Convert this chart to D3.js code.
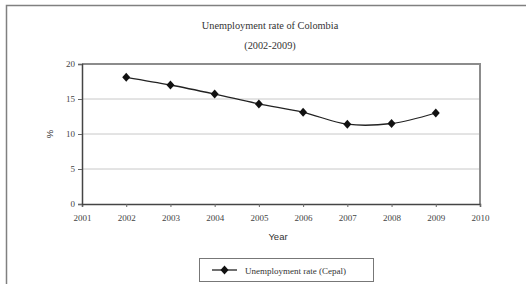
<!DOCTYPE html>
<html>
<head>
<meta charset="utf-8">
<script src="https://cdn.jsdelivr.net/npm/d3@7"></script>
<style>
  body { margin: 0; background: #fff; }
  svg { display: block; }
</style>
</head>
<body>
<svg id="chart" width="526" height="284"></svg>
<script>
const years = [2002, 2003, 2004, 2005, 2006, 2007, 2008, 2009];
const rates = [18.1, 17.0, 15.7, 14.3, 13.1, 11.4, 11.5, 13.0];
const xTicks = [2001, 2002, 2003, 2004, 2005, 2006, 2007, 2008, 2009, 2010];
const yTicks = [0, 5, 10, 15, 20];
const seriesName = 'Unemployment rate (Cepal)';

const svg = d3.select('#chart');
const serif = '"Liberation Serif", "DejaVu Serif", serif';
const sans = '"Liberation Sans", Arial, sans-serif';

// outer frame (top + left only, image is cropped)
svg.append('path')
    .attr('d', 'M6.5,284 V5.5 H526')
    .attr('fill', 'none')
    .attr('stroke', '#808080')
    .attr('stroke-width', 1.5);

const plot = { left: 82, top: 64, right: 480, bottom: 204 };

const x = d3.scaleLinear().domain([2001, 2010]).range([plot.left, plot.right]);
const y = d3.scaleLinear().domain([0, 20]).range([plot.bottom, plot.top]);

// title
svg.append('text')
    .attr('x', 270).attr('y', 29)
    .attr('text-anchor', 'middle')
    .attr('font-family', serif).attr('font-size', 10.3).attr('fill', '#333')
    .text('Unemployment rate of Colombia');
svg.append('text')
    .attr('x', 270).attr('y', 49)
    .attr('text-anchor', 'middle')
    .attr('font-family', serif).attr('font-size', 10.3).attr('fill', '#333')
    .text('(2002-2009)');

// gridlines
svg.append('g')
    .selectAll('line')
    .data(yTicks.filter(d => d > 0 && d < 20))
    .enter().append('line')
    .attr('x1', plot.left).attr('x2', plot.right)
    .attr('y1', d => y(d)).attr('y2', d => y(d))
    .attr('stroke', '#c8c8c8').attr('stroke-width', 1);

// plot border (top and right, grey)
svg.append('path')
    .attr('d', `M${plot.left},${y(20)} H${plot.right} V${plot.bottom}`)
    .attr('fill', 'none')
    .attr('stroke', '#8c8c8c')
    .attr('stroke-width', 2);

// axes
const xAxis = svg.append('g')
    .attr('transform', `translate(0,${plot.bottom})`)
    .call(d3.axisBottom(x).tickValues(xTicks).tickFormat(d3.format('d')).tickSize(3).tickPadding(8));
const yAxis = svg.append('g')
    .attr('transform', `translate(${plot.left},0)`)
    .call(d3.axisLeft(y).tickValues(yTicks).tickSize(4).tickPadding(3));

[xAxis, yAxis].forEach(g => {
    g.select('.domain').attr('stroke', '#444').attr('stroke-width', 1.5);
    g.selectAll('.tick line').attr('stroke', '#666');
    g.selectAll('.tick text')
        .attr('font-family', serif).attr('font-size', 9).attr('fill', '#444');
});

// axis titles
svg.append('text')
    .attr('x', 278).attr('y', 240)
    .attr('text-anchor', 'middle')
    .attr('font-family', sans).attr('font-size', 9.5).attr('fill', '#333')
    .text('Year');
svg.append('text')
    .attr('transform', `translate(53,${(plot.top + plot.bottom) / 2}) rotate(-90)`)
    .attr('text-anchor', 'middle')
    .attr('font-family', sans).attr('font-size', 9.5).attr('fill', '#333')
    .text('%');

// series line
const data = years.map((yr, i) => ({ year: yr, rate: rates[i] }));
const line = d3.line()
    .x(d => x(d.year))
    .y(d => y(d.rate))
    .curve(d3.curveCatmullRom.alpha(0));
svg.append('path')
    .datum(data)
    .attr('d', line)
    .attr('fill', 'none')
    .attr('stroke', '#222')
    .attr('stroke-width', 1.3);

// square-ish diamond marker like the spreadsheet one
const diamond = 'M0,-4.5 L4,0 L0,4.5 L-4,0 Z';
svg.append('g')
    .selectAll('path')
    .data(data)
    .enter().append('path')
    .attr('transform', d => `translate(${x(d.year)},${y(d.rate)})`)
    .attr('d', diamond)
    .attr('fill', '#111');

// legend
const legend = svg.append('g').attr('transform', 'translate(199,258)');
legend.append('rect')
    .attr('x', 0.5).attr('y', 0.5)
    .attr('width', 174).attr('height', 23)
    .attr('fill', '#fff')
    .attr('stroke', '#777').attr('stroke-width', 1);
legend.append('line')
    .attr('x1', 13).attr('x2', 38).attr('y1', 12).attr('y2', 12)
    .attr('stroke', '#222').attr('stroke-width', 1.3);
legend.append('path')
    .attr('transform', 'translate(25.5,12)')
    .attr('d', diamond)
    .attr('fill', '#111');
legend.append('text')
    .attr('x', 46).attr('y', 15.5)
    .attr('font-family', serif).attr('font-size', 9).attr('fill', '#333')
    .text(seriesName);
</script>
</body>
</html>
